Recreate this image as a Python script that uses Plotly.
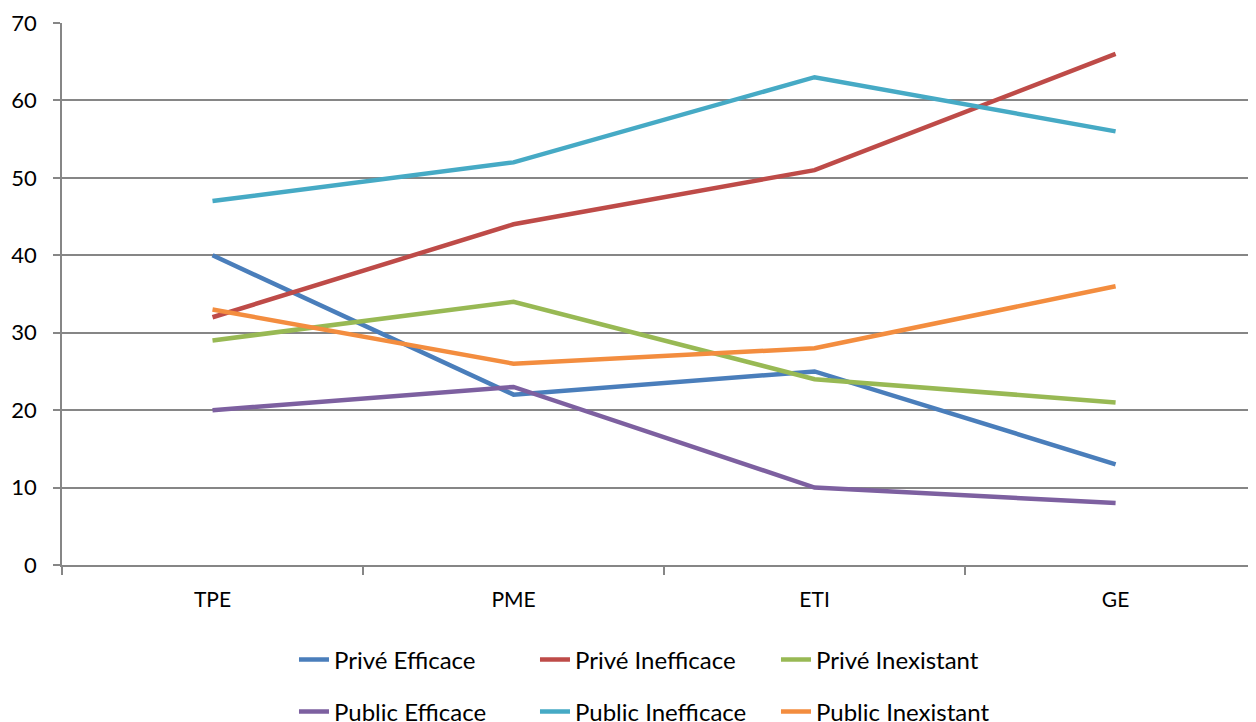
import plotly.graph_objects as go

categories = ["TPE", "PME", "ETI", "GE"]
prive_efficace = [40, 22, 25, 13]
prive_inefficace = [32, 44, 51, 66]
prive_inexistant = [29, 34, 24, 21]
public_efficace = [20, 23, 10, 8]
public_inefficace = [47, 52, 63, 56]
public_inexistant = [33, 26, 28, 36]

series = [
    ("Privé Efficace", prive_efficace, "#4A7EBB", "legend"),
    ("Privé Inefficace", prive_inefficace, "#BE4B48", "legend"),
    ("Privé Inexistant", prive_inexistant, "#98B954", "legend"),
    ("Public Efficace", public_efficace, "#7D60A0", "legend2"),
    ("Public Inefficace", public_inefficace, "#46AAC5", "legend2"),
    ("Public Inexistant", public_inexistant, "#F38D3F", "legend2"),
]

FONT = "Lato"
fig = go.Figure()
for name, vals, color, lg in series:
    fig.add_trace(go.Scatter(
        x=categories, y=vals, name=name, mode="lines",
        line=dict(color=color, width=4.5), legend=lg,
    ))

grid = "#868686"
legend_common = dict(
    orientation="h", xanchor="left", yanchor="middle",
    font=dict(family=FONT, size=24, color="#000000"),
    entrywidth=196, entrywidthmode="pixels",
    bgcolor="rgba(0,0,0,0)", itemwidth=30,
)
fig.update_layout(
    width=1256, height=722,
    margin=dict(l=54, r=0, t=15, b=165, autoexpand=False),
    plot_bgcolor="white", paper_bgcolor="white",
    font=dict(family=FONT, size=21, color="#000000"),
    showlegend=True,
    legend=dict(x=0.193, y=-0.1753, **legend_common),
    legend2=dict(x=0.193, y=-0.2712, **legend_common),
    xaxis=dict(
        type="category", range=[-0.5, 3.493], tickson="boundaries",
        automargin=False,
        showgrid=False, showline=True, linecolor=grid, linewidth=1.5,
        ticks="outside", ticklen=8, tickcolor=grid, tickwidth=1.5,
        tickfont=dict(family=FONT, size=21), ticklabelstandoff=15,
    ),
    yaxis=dict(
        range=[0, 70], dtick=10, showgrid=True, gridcolor=grid, gridwidth=1.5,
        automargin=False,
        showline=True, linecolor=grid, linewidth=1.5, zeroline=False,
        ticks="outside", ticklen=7, tickcolor=grid, tickwidth=1.5,
        tickfont=dict(family=FONT, size=22), ticklabelstandoff=12,
    ),
)
fig.write_html("out.html")
